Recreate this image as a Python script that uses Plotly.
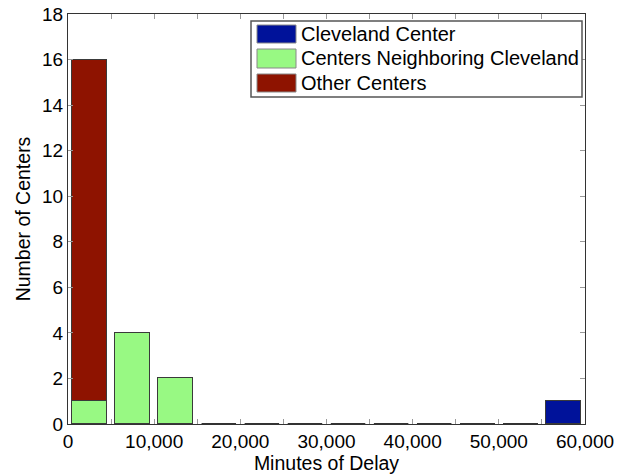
import plotly.graph_objects as go

# Delay histogram: 12 bins of 5,000 minutes each
bin_centers = [2500, 7500, 12500, 17500, 22500, 27500,
               32500, 37500, 42500, 47500, 52500, 57500]
cleveland = [0, 0, 0, 0, 0, 0, 0, 0, 0, 0, 0, 1]
neighboring = [1, 4, 2, 0, 0, 0, 0, 0, 0, 0, 0, 0]
other = [15, 0, 0, 0, 0, 0, 0, 0, 0, 0, 0, 0]

series_names = ["Cleveland Center", "Centers Neighboring Cleveland", "Other Centers"]
series_values = [cleveland, neighboring, other]
series_colors = ["#00129A", "#98F983", "#8E1300"]

x_tickvals = [0, 5000, 10000, 15000, 20000, 25000, 30000,
              35000, 40000, 45000, 50000, 55000, 60000]
x_ticktext = ["0", "", "10,000", "", "20,000", "", "30,000",
              "", "40,000", "", "50,000", "", "60,000"]
y_tickvals = [0, 2, 4, 6, 8, 10, 12, 14, 16, 18]

BAR_WIDTH = 4000
FONT = "Liberation Sans, Arial, Helvetica, sans-serif"
EDGE = "#3a3a3a"

W, H = 629, 475
L, R, T, B = 68, 44, 14, 51
PW, PH = W - L - R, H - T - B


def px_x(p):
    return (p - L) / PW


def px_y(p):
    return (H - B - p) / PH


fig = go.Figure()
for name, vals, col in zip(series_names, series_values, series_colors):
    fig.add_trace(go.Bar(
        x=bin_centers, y=vals, name=name, width=BAR_WIDTH,
        marker=dict(color=col, line=dict(color=EDGE, width=1)),
        showlegend=False,
    ))

# empty bins are drawn as flat outlines on the baseline
totals = [a + b + c for a, b, c in zip(cleveland, neighboring, other)]
zx, zy = [], []
for c, t in zip(bin_centers, totals):
    if t == 0:
        zx += [c - BAR_WIDTH / 2, c + BAR_WIDTH / 2, None]
        zy += [0, 0, None]
fig.add_trace(go.Scatter(x=zx, y=zy, mode="lines", cliponaxis=False,
                         line=dict(color="#333333", width=2.2),
                         showlegend=False, hoverinfo="skip"))

# legend box drawn by hand for large swatches
shapes = [dict(type="rect", xref="paper", yref="paper",
               x0=px_x(251), x1=px_x(582), y0=px_y(97), y1=px_y(21),
               line=dict(color="#555555", width=1.5), fillcolor="white", layer="above")]
annotations = []
sw_rows = [(25, 43), (49, 68), (74, 92)]
for (y0, y1), name, col in zip(sw_rows, series_names, series_colors):
    shapes.append(dict(type="rect", xref="paper", yref="paper",
                       x0=px_x(257), x1=px_x(296), y0=px_y(y1), y1=px_y(y0),
                       line=dict(color="#888888", width=1), fillcolor=col, layer="above"))
    annotations.append(dict(xref="paper", yref="paper", x=px_x(299), y=px_y((y0 + y1) / 2),
                            text=name, showarrow=False, xanchor="left", yanchor="middle",
                            font=dict(family=FONT, size=20, color="black")))

fig.update_layout(
    width=W, height=H,
    margin=dict(l=L, r=R, t=T, b=B, autoexpand=False),
    paper_bgcolor="white", plot_bgcolor="white",
    barmode="stack", bargap=0,
    font=dict(family=FONT, size=19, color="black"),
    shapes=shapes, annotations=annotations,
    xaxis=dict(range=[0, 60000], tickvals=x_tickvals, ticktext=x_ticktext,
               ticks="inside", ticklen=5, tickcolor="#999999", tickwidth=1,
               showline=True, linecolor="#333333", linewidth=1, mirror="ticks",
               showgrid=False, zeroline=False, automargin=False,
               title=dict(text="Minutes of Delay", standoff=2,
                          font=dict(family=FONT, size=19.5))),
    yaxis=dict(range=[0, 18], tickvals=y_tickvals,
               ticks="inside", ticklen=5, tickcolor="#999999", tickwidth=1,
               showline=True, linecolor="#333333", linewidth=1, mirror="ticks",
               showgrid=False, zeroline=False, automargin=False,
               title=dict(text="Number of Centers", standoff=6,
                          font=dict(family=FONT, size=19.5))),
)

fig.write_html("out.html")
